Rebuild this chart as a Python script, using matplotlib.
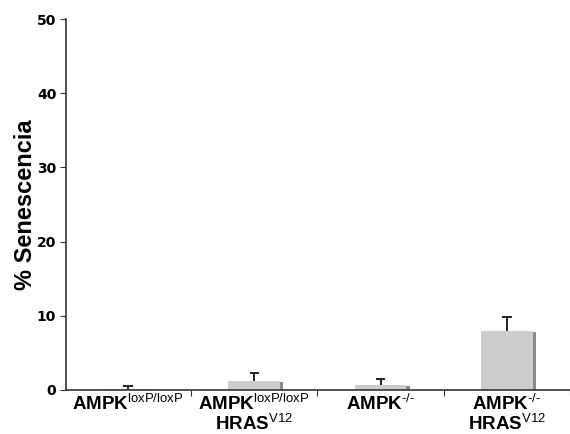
import matplotlib.pyplot as plt
import numpy as np

plt.rcParams['mathtext.fontset'] = 'custom'
plt.rcParams['mathtext.rm'] = 'Liberation Sans'
plt.rcParams['mathtext.bf'] = 'Liberation Sans:bold'

line1 = [r'$\mathbf{AMPK}^{\mathrm{loxP/loxP}}$',
         r'$\mathbf{AMPK}^{\mathrm{loxP/loxP}}$',
         r'$\mathbf{AMPK}^{\text{-/-}}$',
         r'$\mathbf{AMPK}^{\text{-/-}}$']
line2 = ['', r'$\mathbf{HRAS}^{\mathrm{V12}}$', '', r'$\mathbf{HRAS}^{\mathrm{V12}}$']
senescence = np.array([0.15, 1.25, 0.7, 8.0])
err = np.array([0.35, 1.0, 0.75, 1.8])

fig = plt.figure(figsize=(5.7, 4.34), dpi=100)
ax = fig.add_axes([0.1158, 0.1014, 0.8842, 0.8546])

x = np.arange(len(senescence))
w = 0.41
# shadow
ax.bar(x + 0.025, senescence - 0.12, width=w, color='#8a8a8a', zorder=1)
ax.bar(x, senescence, width=w, color='#cccccc', zorder=2)
# upper error bars only
ax.vlines(x, senescence, senescence + err, color='#111111', lw=1.3, zorder=3)
ax.hlines(senescence + err, x - 0.037, x + 0.037, color='#111111', lw=1.3, zorder=3)

ax.set_xlim(-0.49, 3.43)
ax.set_ylim(0, 50)
ax.set_yticks([0, 10, 20, 30, 40, 50])
ax.set_yticklabels(['0', '10', '20', '30', '40', '50'], fontsize=10,
                   fontweight='bold', family='DejaVu Sans')
ax.set_xticks(x + 0.5)
ax.set_xticklabels([])
ax.tick_params(axis='x', which='major', length=4, direction='out', color='#333333')
ax.tick_params(axis='y', length=4, direction='out', color='#333333', pad=3)

for xi, a, b in zip(x, line1, line2):
    ax.annotate(a, (xi, 0), xycoords=('data', 'axes fraction'),
                xytext=(0, -14.3), textcoords='offset points',
                ha='center', va='baseline', fontsize=13.5)
    if b:
        ax.annotate(b, (xi, 0), xycoords=('data', 'axes fraction'),
                    xytext=(0, -28.8), textcoords='offset points',
                    ha='center', va='baseline', fontsize=13.5)

ax.set_ylabel('% Senescencia', fontsize=17, fontweight='bold',
              family='Liberation Sans', labelpad=0)
for s in ['top', 'right']:
    ax.spines[s].set_visible(False)
for s in ['left', 'bottom']:
    ax.spines[s].set_color('#333333')
    ax.spines[s].set_linewidth(1.2)

fig.savefig('out.png', dpi=100)
